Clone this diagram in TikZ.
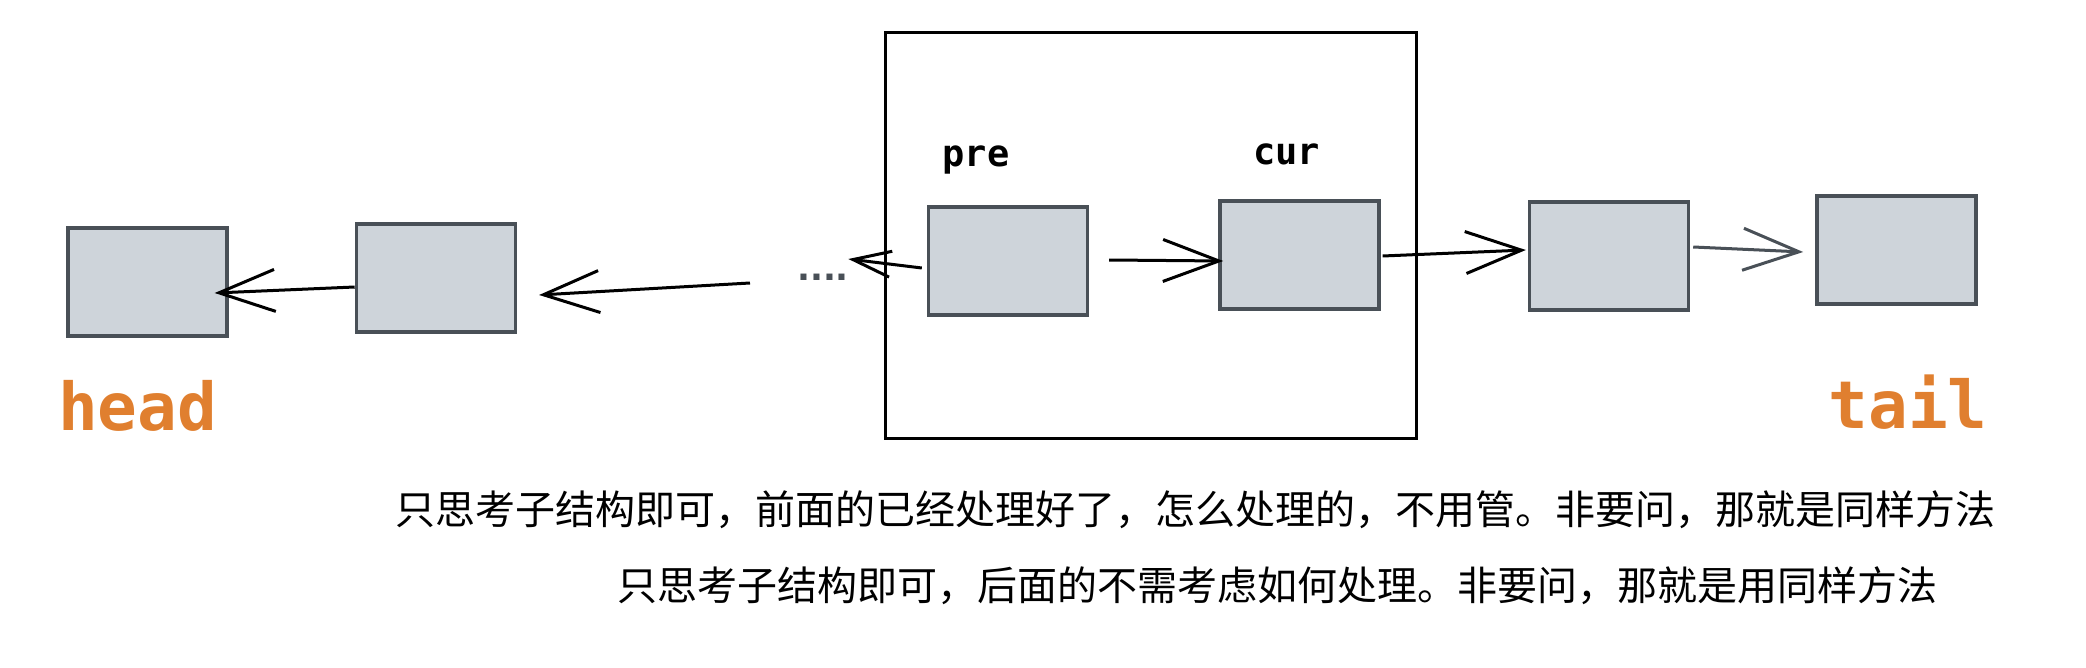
\documentclass[tikz,border=0pt]{standalone}
\usepackage{fontspec}
\usetikzlibrary{arrows.meta,positioning}
\newfontfamily\cjk{Noto Sans CJK SC}
\newfontfamily\codefont{DejaVu Sans Mono}
\newfontfamily\dotfont{DejaVu Sans}
\definecolor{boxfill}{HTML}{CED4DA}
\definecolor{boxline}{HTML}{495057}
\definecolor{ptrcol}{HTML}{E07F2F}

\begin{document}
\begin{tikzpicture}[x=0.5pt,y=-0.5pt,->,>={Straight Barb[length=28pt,width=21pt]},line width=1.5pt,
    main node/.style={rectangle,draw=boxline,fill=boxfill,line width=1.7pt,minimum width=79.5pt,minimum height=54pt,inner sep=0pt},
    small tip/.style={-{Straight Barb[length=19pt,width=13pt]}},
    ptr/.style={font=\codefont\bfseries\fontsize{33}{36}\selectfont,text=ptrcol},
    var/.style={font=\codefont\bfseries\fontsize{18.5}{20}\selectfont},
    note/.style={font=\cjk\fontsize{20}{24}\selectfont}]
    \useasboundingbox (0,0) rectangle (2086,668);

    % the window we look at
    \node[draw,line width=1.5pt,minimum width=265.5pt,minimum height=202.5pt,inner sep=0pt] (frame) at (1150.5,235.5) {};

    \node[main node] (1) at (147.5,282) {};
    \node[main node] (2) [right=63pt of 1,yshift=2pt] {};
    \node[main node] (3) at (1008,261) {};
    \node[main node] (4) [right=64.5pt of 3,yshift=3pt] {};
    \node[main node] (5) at (1609,256) {};
    \node[main node] (6) [right=62.5pt of 5,yshift=3pt] {};

    \node[var,anchor=base] (pre) at (976,167) {pre};
    \node[var,anchor=base] (cur) at (1286.5,165) {cur};
    \node[ptr,anchor=base] (head) at (137.5,430) {head};
    \node[ptr,anchor=base] (tail) at (1908,428) {tail};
    \node[font=\dotfont\bfseries\fontsize{17}{18}\selectfont,text=boxline,inner sep=0pt] (dots) at (823,277) {....};
    \coordinate (gap) at (750,283);

    \path
        ([yshift=-4.5pt]2.west) edge ([xshift=-7pt,yshift=-5.5pt]1.east)
        (gap) edge ([xshift=11pt,yshift=-8.5pt]2.east)
        ([xshift=-2.5pt,yshift=-3.5pt]3.west) edge[small tip] ([xshift=-1pt,yshift=9pt]dots.east)
        ([xshift=10pt,yshift=0.5pt]3.east) edge ([xshift=2.5pt,yshift=-3pt]4.west)
        ([xshift=1pt,yshift=-0.5pt]4.east) edge ([xshift=-1pt,yshift=3pt]5.west)
        ([xshift=1.5pt,yshift=4.5pt]5.east) edge[boxline] ([xshift=-6pt,yshift=-1pt]6.west)
        ;

    \node[note] (line1) at (1195.5,510) {只思考子结构即可，前面的已经处理好了，怎么处理的，不用管。非要问，那就是同样方法};
    \node[note] (line2) at (1277,585.5) {只思考子结构即可，后面的不需考虑如何处理。非要问，那就是用同样方法};
\end{tikzpicture}
\end{document}
